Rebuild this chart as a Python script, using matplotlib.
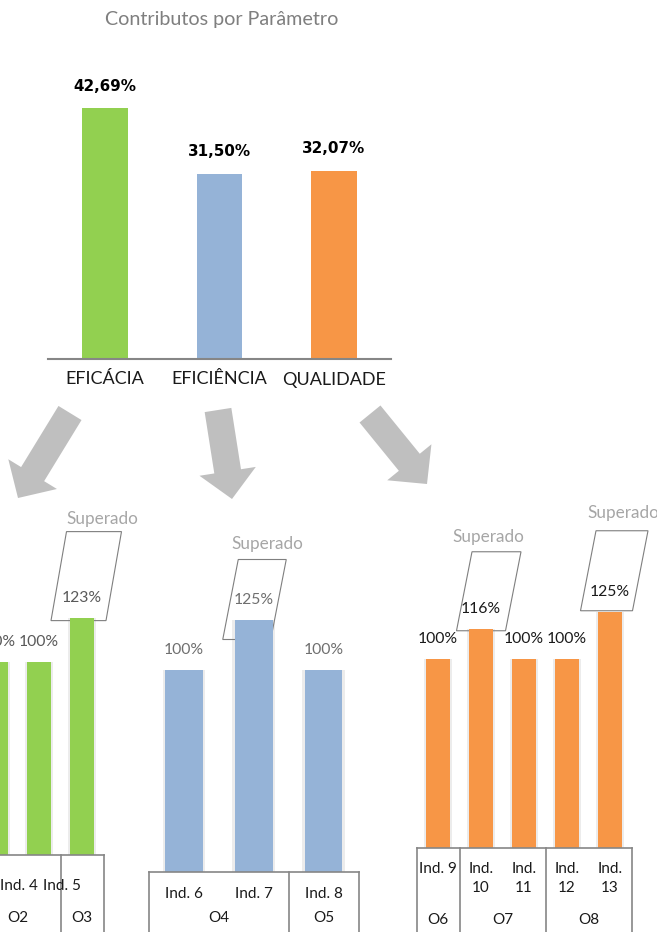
import numpy as np
import matplotlib
matplotlib.use("Agg")
import matplotlib.pyplot as plt
from matplotlib.patches import Polygon, FancyArrow
from matplotlib.transforms import IdentityTransform

# --- data -------------------------------------------------------------
param_names = ["EFICÁCIA", "EFICIÊNCIA", "QUALIDADE"]
param_values = [42.69, 31.50, 32.07]

eficacia_inds = ["Ind. 3", "Ind. 4", "Ind. 5"]
eficacia_values = [100, 100, 123]
eficacia_objs = ["O2", "O2", "O3"]

eficiencia_inds = ["Ind. 6", "Ind. 7", "Ind. 8"]
eficiencia_values = [100, 125, 100]
eficiencia_objs = ["O4", "O4", "O5"]

qualidade_inds = ["Ind. 9", "Ind.\n10", "Ind.\n11", "Ind.\n12", "Ind.\n13"]
qualidade_values = [100, 116, 100, 100, 125]
qualidade_objs = ["O6", "O7", "O7", "O8", "O8"]

GREEN = "#92d050"
BLUE = "#95b3d7"
ORANGE = "#f79646"
GRID = "#868686"

W, H = 657, 932
PT = 0.72  # points per pixel at dpi 100

plt.rcParams["font.family"] = ["Lato", "DejaVu Sans"]
fig = plt.figure(figsize=(W / 100, H / 100), dpi=100)


def px_axes(x0, x1, y_top, y_bot):
    return fig.add_axes([x0 / W, 1 - y_bot / H, (x1 - x0) / W, (y_bot - y_top) / H])


# --- arrows (background layer in pixel coords) ------------------------
ax_bg = fig.add_axes([0, 0, 1, 1])
ax_bg.set_xlim(0, W)
ax_bg.set_ylim(H, 0)
ax_bg.axis("off")
arrows = [((70, 413), (18, 498)), ((218, 410), (232, 499)), ((370, 414), (427, 484))]
for (xt, yt), (xh, yh) in arrows:
    ax_bg.add_patch(FancyArrow(xt, yt, xh - xt, yh - yt, width=27, head_width=57,
                               head_length=28, length_includes_head=True,
                               color="#bfbfbf", lw=0))

# --- top chart --------------------------------------------------------
base_top = 359
px_pct = 5.875
ax = px_axes(47.75, 391.25, base_top - 50 * px_pct, base_top)
x = np.arange(len(param_values))
ax.bar(x, param_values, width=0.4, color=[GREEN, BLUE, ORANGE])
ax.set_xlim(-0.5, len(param_values) - 0.5)
ax.set_ylim(0, 50)
for s in ["top", "right", "left"]:
    ax.spines[s].set_visible(False)
ax.spines["bottom"].set_color(GRID)
ax.spines["bottom"].set_linewidth(1.5)
ax.set_yticks([])
ax.set_xticks(x, param_names, fontsize=13, color="#1a1a1a")
ax.tick_params(axis="x", length=0, pad=9)
for i, v in enumerate(param_values):
    ax.annotate(f"{v:.2f}%".replace(".", ","), (i, v), xytext=(0, 22 * PT),
                textcoords="offset points", ha="center", va="center",
                fontweight="bold", family="DejaVu Sans", fontsize=10.9, color="black")
fig.text(221.5 / W, 1 - 19 / H, "Contributos por Parâmetro", ha="center", va="center",
         color="#7f7f7f", fontsize=14.2)


# --- bottom charts ----------------------------------------------------
def bottom_chart(inds, values, objs, color, x0, x1, base, px100, boxes,
                 ind_dy, obj_dy, ind_dx=0.0, label_color="#595959"):
    n = len(values)
    top = base - 1.4 * px100
    ax = px_axes(x0, x1, top, base)
    ax.set_xlim(-0.5, n - 0.5)
    ax.set_ylim(0, 140)
    ax.axis("off")
    units_per_px = n / (x1 - x0)
    xs = np.arange(n)
    ax.bar(xs, values, width=0.54 + 5 * units_per_px, color="#ececec", zorder=1)
    ax.bar(xs, values, width=0.54, color=color, zorder=2)

    # table lines
    ybot = -(H - base) / (base - top)
    ax.plot([-0.5, n - 0.5], [0, 0], color=GRID, lw=1.2, clip_on=False, zorder=3)
    bounds = [-0.5] + [i + 0.5 for i in range(n - 1) if objs[i] != objs[i + 1]] + [n - 0.5]
    for b in bounds:
        ax.plot([b, b], [0, ybot], transform=ax.get_xaxis_transform(), color=GRID,
                lw=1.2, clip_on=False)

    # category labels
    for i, name in enumerate(inds):
        ax.annotate(name, (i + ind_dx, 0), xycoords=("data", "axes fraction"),
                    xytext=(0, -ind_dy * PT), textcoords="offset points",
                    ha="center", va="top", fontsize=11, color="#1a1a1a",
                    linespacing=1.45, annotation_clip=False)
    start = 0
    for i in range(1, n + 1):
        if i == n or objs[i] != objs[start]:
            ax.annotate(objs[start], ((start + i - 1) / 2, 0), xycoords=("data", "axes fraction"),
                        xytext=(0, -obj_dy * PT), textcoords="offset points",
                        ha="center", va="center", fontsize=11, color="#1a1a1a",
                        annotation_clip=False)
            start = i

    # value labels and "Superado" boxes
    k = 0
    skew = 15.5
    for i, v in enumerate(values):
        ax.annotate(f"{v:.0f}%", (i, v), xytext=(0, 20 * PT), textcoords="offset points",
                    ha="center", va="center", fontsize=11.3, color=label_color,
                    annotation_clip=False, zorder=4)
        if v > 100:
            bl_dx, w, top_dy, bot_dy, sup_dx, sup_dy = boxes[k]
            k += 1
            X, Y = ax.transData.transform((i, v))
            verts = [(X + bl_dx, Y - bot_dy), (X + bl_dx + w, Y - bot_dy),
                     (X + bl_dx + w + skew, Y - top_dy), (X + bl_dx + skew, Y - top_dy)]
            ax.add_patch(Polygon(verts, closed=True, fill=False, edgecolor="#7f7f7f",
                                 lw=0.8, transform=IdentityTransform(), clip_on=False,
                                 zorder=1.5))
            ax.annotate("Superado", (i, v), xytext=(sup_dx * PT, -sup_dy * PT),
                        textcoords="offset points", ha="center", va="center",
                        fontsize=12.3, color="#a6a6a6", annotation_clip=False)


bottom_chart(eficacia_inds, eficacia_values, eficacia_objs, GREEN,
             -25.5, 103.5, 855, 193, [(-31, 55, -86, 3, 20, -99)],
             ind_dy=24, obj_dy=63, ind_dx=-0.47)
bottom_chart(eficiencia_inds, eficiencia_values, eficiencia_objs, BLUE,
             149, 358.5, 872, 202, [(-31, 48, -60, 20, 14, -76)],
             ind_dy=15, obj_dy=46, label_color="#6f6f6f")
bottom_chart(qualidade_inds, qualidade_values, qualidade_objs, ORANGE,
             416.5, 631.5, 848, 189,
             [(-24.5, 49, -77, 2, 7.5, -92), (-29.5, 52, -81, -1, 13.5, -99)],
             ind_dy=14, obj_dy=72, label_color="#1a1a1a")

fig.savefig("out.png", dpi=100)
